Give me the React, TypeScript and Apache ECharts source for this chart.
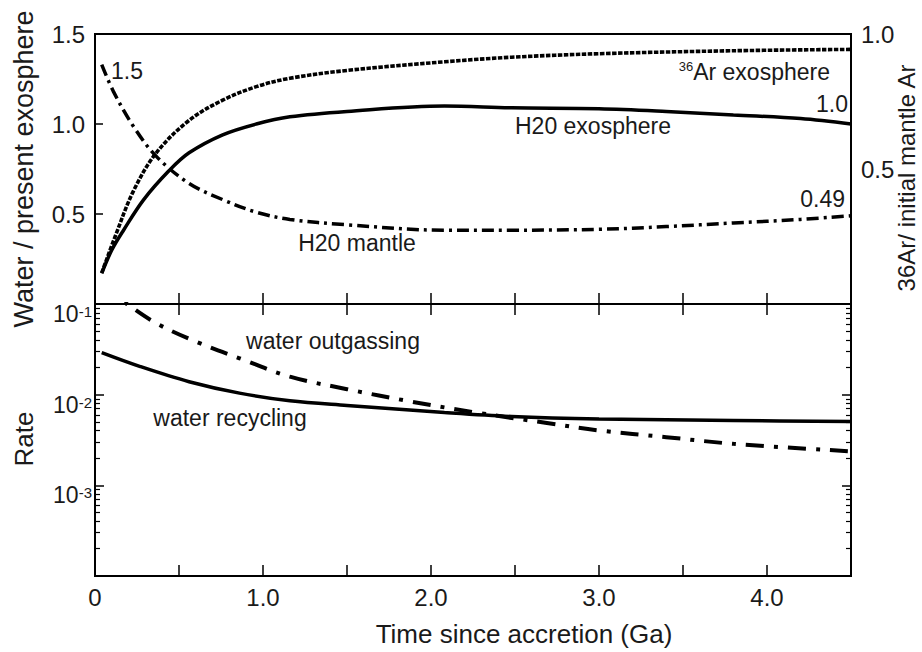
import React, { useEffect, useRef } from "react";
import * as echarts from "echarts";

const FONT = '"Liberation Sans", Arial, Helvetica, sans-serif';
const INK = "#1a1a1a";

// ---- top panel: water / present exosphere (left axis) and 36Ar / initial mantle Ar (right axis)
const h2oExoT = [0.04, 0.1, 0.17, 0.29, 0.44, 0.56, 0.76, 0.96, 1.16, 1.5, 2.08, 2.48, 3.0, 3.4, 3.8, 4.2, 4.5];
const h2oExoV = [0.17, 0.3, 0.41, 0.58, 0.74, 0.84, 0.94, 1.0, 1.04, 1.07, 1.1, 1.09, 1.085, 1.07, 1.05, 1.03, 1.0];

const arExoT = [0.04, 0.12, 0.23, 0.365, 0.56, 0.76, 0.96, 1.16, 1.5, 2.08, 2.48, 3.0, 3.8, 4.5];
const arExoV = [0.115, 0.25, 0.42, 0.56, 0.68, 0.755, 0.805, 0.836, 0.865, 0.897, 0.914, 0.927, 0.938, 0.943];

const h2oMantleT = [0.04, 0.11, 0.23, 0.365, 0.56, 0.76, 0.96, 1.16, 1.5, 2.08, 2.48, 3.0, 3.4, 3.8, 4.2, 4.5];
const h2oMantleV = [1.33, 1.18, 0.985, 0.82, 0.67, 0.58, 0.51, 0.47, 0.44, 0.41, 0.41, 0.415, 0.43, 0.45, 0.47, 0.49];

// ---- bottom panel: rates (log axis)
const recyclingT = [0.04, 0.27, 0.56, 0.86, 1.16, 1.5, 2.08, 2.48, 3.0, 3.8, 4.5];
const recyclingV = [0.0291, 0.0204, 0.0139, 0.0104, 0.00855, 0.0076, 0.00636, 0.00575, 0.0054, 0.00519, 0.00506];

const outgassingT = [0.04, 0.19, 0.365, 0.6, 0.86, 1.16, 1.5, 1.88, 2.28, 2.68, 3.0, 3.4, 3.8, 4.5];
const outgassingV = [0.16, 0.1, 0.0613, 0.0385, 0.0252, 0.0158, 0.0115, 0.0084, 0.0063, 0.0049, 0.00403, 0.0034, 0.00287, 0.00237];

// ---- axis ticks
const logDecades = [1e-4, 1e-3, 1e-2, 1e-1];
const logLabelValues = [1e-3, 1e-2, 1e-1];
const minorMultipliers = [2, 3, 4, 5, 6, 7, 8, 9];
const logMinorTicks = logDecades.slice(0, 3).flatMap((d) => minorMultipliers.map((m) => m * d));

const pairs = (t: number[], v: number[]) => t.map((x, i) => [x, v[i]]);

const baseText = { fontFamily: FONT, fill: INK };

function buildOption(): any {
  const xCommon = {
    type: "value",
    min: 0,
    max: 4.5,
    interval: 0.5,
    axisLine: { show: false },
    splitLine: { show: false },
    axisTick: { inside: true, length: 11, lineStyle: { color: "#000", width: 1.5 } },
  };
  const logCommon = {
    type: "log",
    logBase: 10,
    min: 1e-4,
    max: 1e-1,
    axisLine: { show: false },
    splitLine: { show: false },
    axisLabel: { show: false },
  };
  const lineCommon = {
    type: "line",
    showSymbol: false,
    smooth: 0.35,
  };
  return {
    animation: false,
    backgroundColor: "#ffffff",
    grid: [
      { left: 95, top: 34, width: 756, height: 270, show: true, borderColor: "#000", borderWidth: 2, backgroundColor: "transparent" },
      { left: 95, top: 304, width: 756, height: 272, show: true, borderColor: "#000", borderWidth: 2, backgroundColor: "transparent" },
    ],
    xAxis: [
      { ...xCommon, gridIndex: 0, position: "bottom", axisLabel: { show: false } },
      { ...xCommon, gridIndex: 0, position: "top", axisLabel: { show: false } },
      {
        ...xCommon,
        gridIndex: 1,
        position: "bottom",
        axisLabel: {
          show: true,
          fontSize: 24,
          fontFamily: FONT,
          color: INK,
          margin: 9,
          formatter: (v: number) => (Math.abs(v % 1) < 1e-9 ? (v === 0 ? "0" : v.toFixed(1)) : ""),
        },
      },
    ],
    yAxis: [
      {
        gridIndex: 0,
        type: "value",
        position: "left",
        min: 0,
        max: 1.5,
        interval: 0.5,
        axisLine: { show: false },
        splitLine: { show: false },
        axisTick: { inside: true, length: 8, lineStyle: { color: "#000", width: 1.5 } },
        axisLabel: {
          fontSize: 24,
          fontFamily: FONT,
          color: INK,
          margin: 10,
          formatter: (v: number) => (v === 0 ? "" : v.toFixed(1)),
        },
      },
      {
        gridIndex: 0,
        type: "value",
        position: "right",
        min: 0,
        max: 1,
        interval: 0.5,
        axisLine: { show: false },
        splitLine: { show: false },
        axisTick: { show: false },
        axisLabel: {
          fontSize: 24,
          fontFamily: FONT,
          color: INK,
          margin: 10,
          formatter: (v: number) => (v === 0 ? "" : v.toFixed(1)),
        },
      },
      {
        ...logCommon,
        gridIndex: 1,
        position: "left",
        axisTick: { inside: true, length: 9, customValues: logDecades, lineStyle: { color: "#000", width: 1.5 } },
        axisLabel: {
          show: true,
          customValues: logLabelValues,
          margin: 3,
          verticalAlign: "top",
          fontFamily: FONT,
          color: INK,
          formatter: (v: number) => {
            const e = Math.round(Math.log10(v));
            if (e <= -4) return "";
            return "{b|10}{s|" + e + "}";
          },
          rich: {
            b: { fontSize: 23, lineHeight: 20, fontFamily: FONT, color: INK },
            s: { fontSize: 15, lineHeight: 12, verticalAlign: "top", fontFamily: FONT, color: INK },
          },
        },
      },
      {
        ...logCommon,
        gridIndex: 1,
        position: "left",
        axisTick: { inside: true, length: 5, customValues: logMinorTicks, lineStyle: { color: "#000", width: 1.2 } },
      },
      {
        ...logCommon,
        gridIndex: 1,
        position: "right",
        axisTick: { inside: true, length: 9, customValues: logDecades, lineStyle: { color: "#000", width: 1.5 } },
      },
      {
        ...logCommon,
        gridIndex: 1,
        position: "right",
        axisTick: { inside: true, length: 5, customValues: logMinorTicks, lineStyle: { color: "#000", width: 1.2 } },
      },
    ],
    series: [
      {
        ...lineCommon,
        name: "H20 exosphere",
        xAxisIndex: 0,
        yAxisIndex: 0,
        data: pairs(h2oExoT, h2oExoV),
        lineStyle: { color: "#000", width: 3.5 },
      },
      {
        ...lineCommon,
        name: "36Ar exosphere",
        xAxisIndex: 0,
        yAxisIndex: 1,
        data: pairs(arExoT, arExoV),
        lineStyle: { color: "#000", width: 3.6, type: [4.5, 1.5] },
      },
      {
        ...lineCommon,
        name: "H20 mantle",
        xAxisIndex: 0,
        yAxisIndex: 0,
        data: pairs(h2oMantleT, h2oMantleV),
        lineStyle: { color: "#000", width: 3.5, type: [12, 5, 3, 5] },
      },
      {
        ...lineCommon,
        name: "water recycling",
        xAxisIndex: 2,
        yAxisIndex: 2,
        data: pairs(recyclingT, recyclingV),
        lineStyle: { color: "#000", width: 3.5 },
      },
      {
        ...lineCommon,
        name: "water outgassing",
        xAxisIndex: 2,
        yAxisIndex: 2,
        data: pairs(outgassingT, outgassingV),
        clip: true,
        lineStyle: { color: "#000", width: 4, type: [18, 10, 4, 10] },
      },
    ],
    graphic: {
      elements: [
        // axis titles
        {
          type: "text",
          x: 24,
          y: 169,
          rotation: Math.PI / 2,
          style: { ...baseText, text: "Water / present exosphere", fontSize: 27, align: "center", verticalAlign: "middle" },
        },
        {
          type: "text",
          x: 24,
          y: 439,
          rotation: Math.PI / 2,
          style: { ...baseText, text: "Rate", fontSize: 26, align: "center", verticalAlign: "middle" },
        },
        {
          type: "text",
          x: 906,
          y: 178,
          rotation: Math.PI / 2,
          style: { ...baseText, text: "36Ar/ initial mantle Ar", fontSize: 24, align: "center", verticalAlign: "middle" },
        },
        {
          type: "text",
          x: 524,
          y: 634,
          style: { ...baseText, text: "Time since accretion (Ga)", fontSize: 26, align: "center", verticalAlign: "middle" },
        },
        // curve annotations
        { type: "text", x: 111, y: 71, style: { ...baseText, text: "1.5", fontSize: 23, align: "left", verticalAlign: "middle" } },
        {
          type: "text",
          x: 830,
          y: 72,
          style: {
            ...baseText,
            text: "{s|36}{b|Ar exosphere}",
            align: "right",
            verticalAlign: "middle",
            rich: {
              s: { fontSize: 13, lineHeight: 14, verticalAlign: "top", fontFamily: FONT, fill: INK },
              b: { fontSize: 23, lineHeight: 24, fontFamily: FONT, fill: INK },
            },
          },
        },
        { type: "text", x: 848, y: 104, style: { ...baseText, text: "1.0", fontSize: 23, align: "right", verticalAlign: "middle" } },
        { type: "text", x: 593, y: 126, style: { ...baseText, text: "H20 exosphere", fontSize: 23, align: "center", verticalAlign: "middle" } },
        { type: "text", x: 845, y: 199, style: { ...baseText, text: "0.49", fontSize: 23, align: "right", verticalAlign: "middle" } },
        { type: "text", x: 357, y: 243, style: { ...baseText, text: "H20 mantle", fontSize: 23, align: "center", verticalAlign: "middle" } },
        { type: "text", x: 333, y: 341, style: { ...baseText, text: "water outgassing", fontSize: 23, align: "center", verticalAlign: "middle" } },
        { type: "text", x: 230, y: 418, style: { ...baseText, text: "water recycling", fontSize: 23, align: "center", verticalAlign: "middle" } },
      ],
    },
  };
}

export default function App() {
  const ref = useRef<HTMLDivElement>(null);
  useEffect(() => {
    if (!ref.current) return;
    const chart = echarts.init(ref.current, null, { renderer: "svg" });
    chart.setOption(buildOption());
    return () => chart.dispose();
  }, []);
  return (
    <div
      ref={ref}
      style={{ position: "fixed", left: 0, top: 0, width: 922, height: 652, background: "#ffffff" }}
    />
  );
}
